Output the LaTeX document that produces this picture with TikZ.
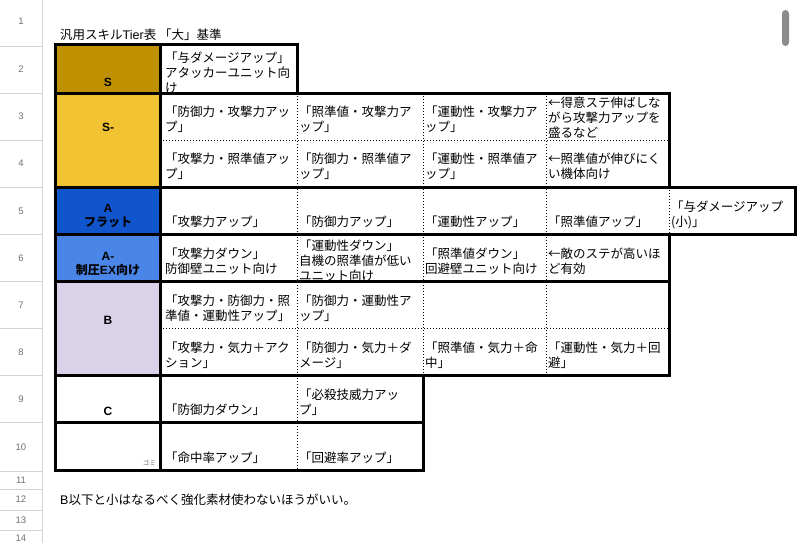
\documentclass[tikz,border=0pt]{standalone}
\usepackage{fontspec}
\setmainfont{Noto Sans CJK JP}
\newfontfamily\labfont{Liberation Sans}
\definecolor{cS}{HTML}{BF9000}
\definecolor{cSm}{HTML}{F1C232}
\definecolor{cA}{HTML}{1155CC}
\definecolor{cAm}{HTML}{4A86E8}
\definecolor{cB}{HTML}{D9D2E9}
\definecolor{gridgray}{HTML}{D4D4D4}
\definecolor{numgray}{HTML}{707070}
\definecolor{barcol}{HTML}{8C8C8C}
\tikzset{
  celltext/.style={anchor=base west, inner sep=0pt, font=\fontsize{12.5}{15}\selectfont},
  plaintext/.style={anchor=base west, inner sep=0pt, font=\fontsize{12.5}{15}\selectfont},
  labtext/.style={anchor=base, inner sep=0pt, font=\labfont\bfseries\fontsize{12}{14}\selectfont},
  labjp/.style={anchor=base, inner sep=0pt, font=\bfseries\fontsize{12}{14}\selectfont},
  rownum/.style={anchor=base, inner sep=0pt, text=numgray, font=\labfont\fontsize{9.5}{11}\selectfont},
  thickbox/.style={line width=3pt, draw=black},
  dotline/.style={line width=0.9pt, draw=black, dash pattern=on 1.4pt off 1.6pt},
  gridline/.style={line width=0.8pt, draw=gridgray},
}
\newcommand\tx[4]{\node[celltext] (#1) at (#2,{#3+4.6}) {#4};}
\newcommand\rn[3]{\node[rownum] (#1) at (21,{#2+3.5}) {#3};}
\begin{document}
\begin{tikzpicture}[x=1pt,y=-1pt]
\useasboundingbox (0,0) rectangle (800,543);
\fill[white] (0,0) rectangle (800,543);
% row header column
\draw[gridline] (42.5,0) -- (42.5,543);
\foreach \yy in {46,93,140,187,234,281,328,375,422,471,489,510,530}
  \draw[gridline] (0,\yy) -- (42.5,\yy);
\rn{n1}{21}{1}
\rn{n2}{69}{2}
\rn{n3}{116}{3}
\rn{n4}{163}{4}
\rn{n5}{211}{5}
\rn{n6}{258}{6}
\rn{n7}{305}{7}
\rn{n8}{352}{8}
\rn{n9}{399}{9}
\rn{n10}{447}{10}
\rn{n11}{480}{11}
\rn{n12}{499}{12}
\rn{n13}{520}{13}
\rn{n14}{538}{14}
% scrollbar
\fill[barcol, rounded corners=3.5pt] (782,10) rectangle (789,46);
% fills
\fill[cS]  (55,45) rectangle (160,93);
\fill[cSm] (55,93) rectangle (160,187);
\fill[cA]  (55,187) rectangle (160,234);
\fill[cAm] (55,234) rectangle (160,281);
\fill[cB]  (55,281) rectangle (160,375);
% dotted lines
\draw[dotline] (297,93) -- (297,470);
\draw[dotline] (423,93) -- (423,375);
\draw[dotline] (546,93) -- (546,375);
\draw[dotline] (669,187) -- (669,234);
\draw[dotline] (160,140) -- (669,140);
\draw[dotline] (160,328) -- (669,328);
% thick boxes
\draw[thickbox] (55,45) rectangle (297,93);
\draw[thickbox] (55,93) rectangle (669,187);
\draw[thickbox] (55,187) rectangle (795,234);
\draw[thickbox] (55,234) rectangle (669,281);
\draw[thickbox] (55,281) rectangle (669,375);
\draw[thickbox] (55,375) rectangle (423,422);
\draw[thickbox] (55,422) rectangle (423,470);
\draw[thickbox] (160,45) -- (160,470);
% title and note
\node[plaintext] (title) at (60,{35+4.6}) {汎用スキル{\labfont Tier}表\ 「大」基準};
\node[plaintext] (note) at (60,{500+4.6}) {{\labfont B}以下と小はなるべく強化素材使わないほうがいい。};
% tier labels
\node[labtext] (lS) at (108,{82+4.3}) {S};
\node[labtext] (lSm) at (108,{127+4.3}) {S-};
\node[labtext] (lA) at (108,{208+4.3}) {A};
\node[labjp] (lA2) at (108,{222+4.3}) {フラット};
\node[labtext] (lAm) at (108,{256+4.3}) {A-};
\node[labjp] (lAm2) at (108,{270+4.3}) {制圧{\labfont EX}向け};
\node[labtext] (lB) at (108,{320+4.3}) {B};
\node[labtext] (lC) at (108,{411+4.3}) {C};
\node[anchor=base east, inner sep=0pt, text=numgray, font=\fontsize{6.5}{7}\selectfont] (gomi) at (156,{463+2.4}) {ゴミ};
% row 2
\begin{scope}
\clip (161.5,46.5) rectangle (295.5,91.5);
\tx{r2a}{165}{58}{「与ダメージアップ」}
\tx{r2b}{165}{73}{アタッカーユニット向}
\tx{r2c}{165}{88}{け}
\end{scope}
% row 3
\tx{r3b1}{165}{112}{「防御力・攻撃力アッ}
\tx{r3b2}{165}{127}{プ」}
\tx{r3c1}{299}{112}{「照準値・攻撃力ア}
\tx{r3c2}{299}{127}{ップ」}
\tx{r3d1}{425}{112}{「運動性・攻撃力ア}
\tx{r3d2}{425}{127}{ップ」}
\begin{scope}
\clip (547,94.5) rectangle (667.5,139.5);
\tx{r3e1}{548}{103}{←得意ステ伸ばしな}
\tx{r3e2}{548}{118}{がら攻撃力アップを}
\tx{r3e3}{548}{133}{盛るなど}
\end{scope}
% row 4
\tx{r4b1}{165}{159}{「攻撃力・照準値アッ}
\tx{r4b2}{165}{174}{プ」}
\tx{r4c1}{299}{159}{「防御力・照準値ア}
\tx{r4c2}{299}{174}{ップ」}
\tx{r4d1}{425}{159}{「運動性・照準値ア}
\tx{r4d2}{425}{174}{ップ」}
\tx{r4e1}{548}{159}{←照準値が伸びにく}
\tx{r4e2}{548}{174}{い機体向け}
% row 5
\tx{r5b}{165}{222}{「攻撃力アップ」}
\tx{r5c}{299}{222}{「防御力アップ」}
\tx{r5d}{425}{222}{「運動性アップ」}
\tx{r5e}{548}{222}{「照準値アップ」}
\tx{r5f1}{671}{207}{「与ダメージアップ}
\tx{r5f2}{671}{222}{(小)」}
% row 6
\tx{r6b1}{165}{254}{「攻撃力ダウン」}
\tx{r6b2}{165}{269}{防御壁ユニット向け}
\begin{scope}
\clip (298,235.5) rectangle (422,279.5);
\tx{r6c1}{299}{246}{「運動性ダウン」}
\tx{r6c2}{299}{261}{自機の照準値が低い}
\tx{r6c3}{299}{276}{ユニット向け}
\end{scope}
\tx{r6d1}{425}{254}{「照準値ダウン」}
\tx{r6d2}{425}{269}{回避壁ユニット向け}
\tx{r6e1}{548}{254}{←敵のステが高いほ}
\tx{r6e2}{548}{269}{ど有効}
% row 7
\tx{r7b1}{165}{301}{「攻撃力・防御力・照}
\tx{r7b2}{165}{316}{準値・運動性アップ」}
\tx{r7c1}{299}{301}{「防御力・運動性ア}
\tx{r7c2}{299}{316}{ップ」}
% row 8
\tx{r8b1}{165}{348}{「攻撃力・気力＋アク}
\tx{r8b2}{165}{363}{ション」}
\tx{r8c1}{299}{348}{「防御力・気力＋ダ}
\tx{r8c2}{299}{363}{メージ」}
\tx{r8d1}{425}{348}{「照準値・気力＋命}
\tx{r8d2}{425}{363}{中」}
\tx{r8e1}{548}{348}{「運動性・気力＋回}
\tx{r8e2}{548}{363}{避」}
% row 9
\tx{r9b}{165}{410}{「防御力ダウン」}
\tx{r9c1}{299}{395}{「必殺技威力アッ}
\tx{r9c2}{299}{410}{プ」}
% row 10
\tx{r10b}{165}{458}{「命中率アップ」}
\tx{r10c}{299}{458}{「回避率アップ」}
\end{tikzpicture}
\end{document}
